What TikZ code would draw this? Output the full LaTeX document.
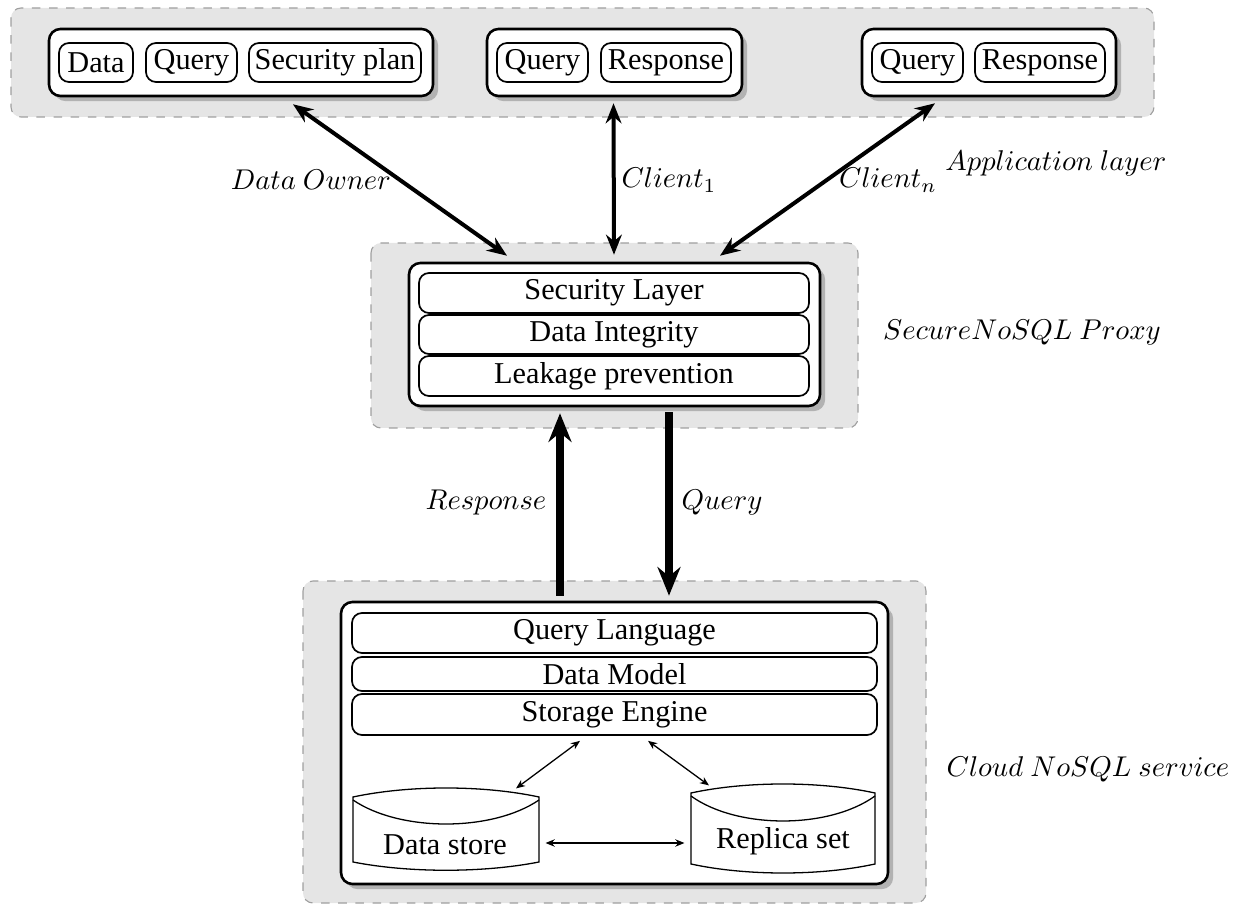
\documentclass[tikz,border=0pt]{standalone}
\usepackage{fontspec}
\setmainfont{Liberation Serif}
\usetikzlibrary{shadows,arrows.meta,calc}
\def\pxu{0.35pt}
\tikzset{
 bg/.style={draw=gray!75, dashed, fill=gray!20, rounded corners=3.5pt, line width=0.4pt},
 outerbox/.style={draw, fill=white, line width=0.9pt, rounded corners=4pt, inner sep=0pt,
   drop shadow={shadow xshift=1.8pt, shadow yshift=-1.8pt, fill=black!30, opacity=1}},
 innerbox/.style={draw, fill=white, line width=0.6pt, rounded corners=3.5pt, inner sep=0pt,
   font=\fontsize{10.6}{12}\selectfont},
 lab/.style={inner sep=0pt},
 cyltext/.style={inner sep=0pt, font=\fontsize{10.6}{12}\selectfont},
 thickarrow/.style={{Stealth[length=7pt,width=5.5pt]}-{Stealth[length=7pt,width=5.5pt]}, line width=1.4pt},
 bigarrow/.style={-{Stealth[length=10pt,width=8pt]}, line width=2.8pt},
 thinarrow/.style={{Stealth[length=3.2pt,width=2.6pt]}-{Stealth[length=3.2pt,width=2.6pt]}, line width=0.45pt},
 cyl/.style={draw, line width=0.45pt},
 ghost/.style={draw=none, inner sep=0pt},
}
\begin{document}
\begin{tikzpicture}[x=0.35pt, y=-0.35pt]
\useasboundingbox (0,0) rectangle (1239,905);
% backgrounds
\draw[bg] (11,8) rectangle (1154,117);
\draw[bg] (371,243) rectangle (858,428);
\draw[bg] (303,581) rectangle (926,903);

% application layer
\node[outerbox, minimum width=384*\pxu, minimum height=67*\pxu] (g1) at (241,62.5) {};
\node[innerbox, minimum width=74*\pxu, minimum height=39*\pxu] (d1) at (96,62.5) {Data};
\node[innerbox, minimum width=91*\pxu, minimum height=39*\pxu] (q1) at (191.5,62.5) {Query};
\node[innerbox, minimum width=172*\pxu, minimum height=39*\pxu] (sp1) at (335,62.5) {Security plan};

\node[outerbox, minimum width=255*\pxu, minimum height=67*\pxu] (g2) at (614.5,62.5) {};
\node[innerbox, minimum width=91*\pxu, minimum height=39*\pxu] (q2) at (542.5,62.5) {Query};
\node[innerbox, minimum width=130*\pxu, minimum height=39*\pxu] (r2) at (666,62.5) {Response};

\node[outerbox, minimum width=254*\pxu, minimum height=67*\pxu] (g3) at (989,62.5) {};
\node[innerbox, minimum width=91*\pxu, minimum height=39*\pxu] (q3) at (917.5,62.5) {Query};
\node[innerbox, minimum width=130*\pxu, minimum height=39*\pxu] (r3) at (1040,62.5) {Response};

% proxy
\node[outerbox, minimum width=411*\pxu, minimum height=143*\pxu] (px) at (614.5,334.5) {};
\node[innerbox, minimum width=390*\pxu, minimum height=40*\pxu] (sl) at (614,293) {Security Layer};
\node[innerbox, minimum width=390*\pxu, minimum height=39*\pxu] (di) at (614,334.5) {Data Integrity};
\node[innerbox, minimum width=390*\pxu, minimum height=40*\pxu] (lp) at (614,376) {Leakage prevention};

% cloud
\node[outerbox, minimum width=547*\pxu, minimum height=282*\pxu] (cl) at (614.5,743) {};
\node[innerbox, minimum width=525*\pxu, minimum height=40*\pxu] (ql) at (614.5,633) {Query Language};
\node[innerbox, minimum width=525*\pxu, minimum height=34*\pxu] (dm) at (614.5,674) {Data Model};
\node[innerbox, minimum width=525*\pxu, minimum height=41*\pxu] (se) at (614.5,714.5) {Storage Engine};

% cylinders
\node[ghost, minimum width=186*\pxu, minimum height=82*\pxu] (dsb) at (446,829) {};
\draw[cyl] (353,797) .. controls (409,785) and (483,785) .. (539,797)
  -- (539,862) .. controls (483,873) and (409,873) .. (353,862) -- cycle;
\draw[cyl] (353,800) .. controls (400,832) and (492,832) .. (539,800);
\node[cyltext] (ds) at (445,845) {Data store};

\node[ghost, minimum width=184*\pxu, minimum height=89*\pxu] (rsb) at (783,828.5) {};
\draw[cyl] (691,793) .. controls (746,781) and (820,781) .. (875,793)
  -- (875,864) .. controls (820,876) and (746,876) .. (691,864) -- cycle;
\draw[cyl] (691,796) .. controls (737,829.3) and (829,829.3) .. (875,796);
\node[cyltext] (rs) at (783,841) {Replica set};

% thin arrows
\draw[thinarrow] ($(se.south)+(-34.5,5)$) -- ($(dsb.north)+(70,1)$);
\draw[thinarrow] ($(se.south)+(33.5,5)$) -- ($(rsb.north)+(-74,2)$);
\draw[thinarrow] ($(dsb.east)+(6,14)$) -- ($(rsb.west)+(-6,14.5)$);

% thick arrows
\draw[thickarrow] ($(g1.south)+(52,7)$) -- ($(px.north)+(-107.5,-6)$);
\draw[thickarrow] ($(g2.south)+(-1,6)$) -- ($(px.north)+(-0.5,-7)$);
\draw[thickarrow] ($(g3.south)+(-54,6)$) -- ($(px.north)+(105.5,-6)$);

\draw[bigarrow] ($(cl.north)+(-54.5,-5)$) -- ($(px.south)+(-54.5,6)$);
\draw[bigarrow] ($(px.south)+(54.5,5)$) -- ($(cl.north)+(54.5,-5)$);

% labels
\node[lab] (lowner) at (311,180) {$Data\ Owner$};
\node[lab] (lc1) at (669,180) {$Client_1$};
\node[lab] (lcn) at (888,180) {$Client_n$};
\node[lab] (lapp) at (1056,163) {$Application\ layer$};
\node[lab] (lproxy) at (1022,333) {$SecureNoSQL\ Proxy$};
\node[lab] (lresp) at (486,503) {$Response$};
\node[lab] (lq) at (722,503) {$Query$};
\node[lab] (lcloud) at (1088,769) {$Cloud\ NoSQL\ service$};
\end{tikzpicture}
\end{document}
